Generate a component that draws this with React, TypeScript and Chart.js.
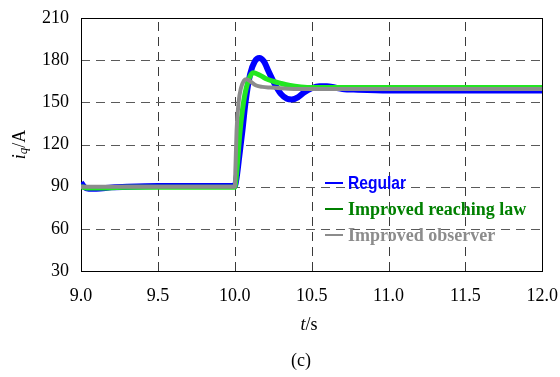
import React, { useEffect, useRef } from "react";
import { Chart, registerables } from "chart.js";
Chart.register(...registerables);

const xTickValues = [9.0, 9.5, 10.0, 10.5, 11.0, 11.5, 12.0];
const yTickValues = [30, 60, 90, 120, 150, 180, 210];

const seriesNames = ["Regular", "Improved reaching law", "Improved observer"];

const regularT = [9.0, 9.02, 9.05, 9.1, 9.2, 9.3, 9.5, 9.7, 9.9, 10.0, 10.013, 10.03, 10.05, 10.07, 10.1, 10.13, 10.16, 10.19, 10.22, 10.26, 10.3, 10.34, 10.37, 10.41, 10.45, 10.5, 10.55, 10.6, 10.65, 10.7, 10.8, 11.0, 11.5, 12.0];
const regularI = [93, 90, 88.5, 88.5, 89.5, 90, 90.5, 90.5, 90.5, 90.5, 97, 112, 130, 150, 170, 179, 181.5, 179, 172, 163, 156, 152.5, 152, 153.5, 157, 160, 161.5, 161.5, 160.5, 159.5, 159, 158.5, 158.5, 158.5];

const reachingT = [9.0, 9.05, 9.1, 9.3, 9.6, 9.9, 10.0, 10.01, 10.035, 10.06, 10.09, 10.12, 10.16, 10.2, 10.25, 10.3, 10.36, 10.43, 10.5, 10.6, 11.0, 11.5, 12.0];
const reachingI = [90, 89, 89, 89.5, 89.5, 89.5, 89.5, 97, 130, 152, 166, 171, 169.5, 167, 165, 163.5, 162, 161, 160.5, 160.5, 160.5, 160.5, 160.5];

const observerT = [9.0, 9.5, 10.0, 10.005, 10.012, 10.025, 10.04, 10.06, 10.075, 10.1, 10.14, 10.18, 10.23, 10.3, 10.4, 11.0, 12.0];
const observerI = [90, 90, 90, 105, 130, 150, 160, 165.5, 166.5, 165, 162, 161, 160.5, 160, 159.5, 159.5, 159.5];

const lineColors = ["#0000ff", "#22e622", "#8c8c8c"];
const legendColors = ["#0000ff", "#008000", "#8c8c8c"];

const zip = (t: number[], v: number[]) => t.map((x, i) => ({ x, y: v[i] }));

const SERIF = "'Liberation Serif', 'Times New Roman', serif";
const SANS = "'Liberation Sans', Arial, sans-serif";

const framePlugin = {
  id: "frame",
  beforeDatasetsDraw(chart: any) {
    const { ctx, chartArea: a, scales } = chart;
    ctx.save();
    ctx.lineWidth = 1;
    ctx.setLineDash([9, 6]);
    ctx.strokeStyle = "#3a3a3a";
    xTickValues.forEach((v) => {
      const px = Math.round(scales.x.getPixelForValue(v)) + 0.5;
      if (v === xTickValues[0] || v === xTickValues[xTickValues.length - 1]) return;
      ctx.beginPath();
      ctx.moveTo(px, a.bottom);
      ctx.lineTo(px, a.top);
      ctx.stroke();
    });
    ctx.strokeStyle = "#5a5a5a";
    yTickValues.forEach((v) => {
      const py = Math.round(scales.y.getPixelForValue(v)) + 0.5;
      if (v === yTickValues[0] || v === yTickValues[yTickValues.length - 1]) return;
      ctx.beginPath();
      ctx.moveTo(a.left, py);
      ctx.lineTo(a.right, py);
      ctx.stroke();
    });
    ctx.setLineDash([]);
    ctx.strokeStyle = "#000";
    ctx.lineWidth = 1;
    ctx.strokeRect(Math.round(a.left) + 0.5, Math.round(a.top) + 0.5, Math.round(a.right - a.left), Math.round(a.bottom - a.top));
    ctx.restore();
  },
  afterDraw(chart: any) {
    const { ctx, chartArea: a } = chart;
    ctx.save();
    // legend
    const lx = 325;
    const ly0 = 183;
    const step = 26;
    seriesNames.forEach((name, i) => {
      const y = ly0 + i * step;
      ctx.strokeStyle = legendColors[i];
      ctx.lineWidth = 2;
      ctx.beginPath();
      ctx.moveTo(lx, y);
      ctx.lineTo(lx + 18, y);
      ctx.stroke();
      ctx.fillStyle = legendColors[i];
      ctx.textBaseline = "middle";
      ctx.textAlign = "left";
      if (i === 0) {
        ctx.font = `bold 18px ${SANS}`;
        ctx.fillText(name, lx + 23, y + 1, 58);
      } else {
        ctx.font = `bold 18px ${SERIF}`;
        ctx.fillText(name, lx + 23, y + 1);
      }
    });
    // x title t/s
    const cx = 309;
    ctx.fillStyle = "#000";
    ctx.textBaseline = "middle";
    ctx.textAlign = "left";
    ctx.font = `italic 18px ${SERIF}`;
    const wt = ctx.measureText("t").width;
    ctx.font = `18px ${SERIF}`;
    const ws = ctx.measureText("/s").width;
    let x0 = cx - (wt + ws) / 2;
    ctx.font = `italic 18px ${SERIF}`;
    ctx.fillText("t", x0, 325);
    ctx.font = `18px ${SERIF}`;
    ctx.fillText("/s", x0 + wt, 325);
    // caption
    ctx.textAlign = "center";
    ctx.font = `18px ${SERIF}`;
    ctx.fillText("(c)", 301, 361);
    // y title i_q/A
    ctx.save();
    ctx.translate(20, (a.top + a.bottom) / 2);
    ctx.rotate(-Math.PI / 2);
    ctx.textAlign = "left";
    ctx.font = `italic 18px ${SERIF}`;
    const wi = ctx.measureText("i").width;
    ctx.font = `italic 13px ${SERIF}`;
    const wq = ctx.measureText("q").width;
    ctx.font = `18px ${SERIF}`;
    const wa = ctx.measureText("/A").width;
    let sx = -(wi + wq + wa) / 2;
    ctx.font = `italic 18px ${SERIF}`;
    ctx.fillText("i", sx, 0);
    ctx.font = `italic 13px ${SERIF}`;
    ctx.fillText("q", sx + wi, 4);
    ctx.font = `18px ${SERIF}`;
    ctx.fillText("/A", sx + wi + wq, 0);
    ctx.restore();
    ctx.restore();
  },
};

export default function App() {
  const ref = useRef<HTMLCanvasElement>(null);
  useEffect(() => {
    if (!ref.current) return;
    const chart = new Chart(ref.current, {
      type: "line",
      data: {
        datasets: [
          { label: seriesNames[0], data: zip(regularT, regularI), borderColor: lineColors[0], borderWidth: 6, order: 2 },
          { label: seriesNames[1], data: zip(reachingT, reachingI), borderColor: lineColors[1], borderWidth: 5, order: 1 },
          { label: seriesNames[2], data: zip(observerT, observerI), borderColor: lineColors[2], borderWidth: 4, order: 0 },
        ],
      },
      options: {
        responsive: false,
        animation: false,
        devicePixelRatio: 1,
        layout: { padding: { left: 0, right: 3, top: 18, bottom: 0 } },
        elements: { point: { radius: 0 }, line: { cubicInterpolationMode: "monotone" } },
        plugins: { legend: { display: false }, tooltip: { enabled: false } },
        scales: {
          x: {
            type: "linear",
            min: 9,
            max: 12,
            afterFit: (s: any) => { s.height = 106; },
            afterBuildTicks: (s: any) => { s.ticks = xTickValues.map((v) => ({ value: v })); },
            grid: { display: true, drawOnChartArea: false, drawTicks: true, tickLength: 12, tickColor: "rgba(0,0,0,0)", color: "rgba(0,0,0,0)" },
            border: { display: false },
            ticks: {
              color: "#000",
              padding: 2,
              maxRotation: 0,
              autoSkip: false,
              font: { family: SERIF, size: 18 },
              callback: (v: any) => Number(v).toFixed(1),
            },
          },
          y: {
            type: "linear",
            min: 30,
            max: 210,
            afterFit: (s: any) => { s.width = 81; },
            afterBuildTicks: (s: any) => { s.ticks = yTickValues.map((v) => ({ value: v })); },
            grid: { display: false },
            border: { display: false },
            ticks: {
              color: "#000",
              padding: 4,
              autoSkip: false,
              font: { family: SERIF, size: 18 },
              callback: (v: any) => String(v),
            },
          },
        },
      },
      plugins: [framePlugin],
    } as any);
    return () => chart.destroy();
  }, []);
  return (
    <div style={{ position: "absolute", left: 0, top: 0, width: 560, height: 377, background: "#fff" }}>
      <canvas ref={ref} width={560} height={377} style={{ display: "block", width: 560, height: 377 }} />
    </div>
  );
}
